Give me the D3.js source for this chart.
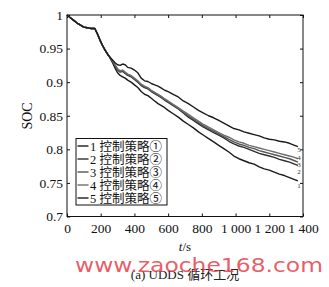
<!DOCTYPE html>
<html><head><meta charset="utf-8">
<script src="https://cdn.jsdelivr.net/npm/d3@7"></script>
<style>
html,body{margin:0;padding:0;background:#fff;}
svg{display:block;}
</style></head>
<body>
<svg id="c" width="329" height="287"></svg>
<script>
const times = [0,20,40,60,80,100,120,140,165,180,195,210,225,240,
  255,270,285,300,315,330,345,360,380,400,420,440,460,480,500,520,540,560,580,600,
  630,660,690,720,750,780,810,840,870,900,930,960,990,1020,1050,1080,1110,1140,1170,1200,1230,1260,1290,1320,1350,1370];

const soc1 = [1.000,0.996,0.992,0.988,0.985,0.982,0.981,0.980,0.980,0.972,0.963,0.955,0.948,0.942,
  0.936,0.929,0.921,0.914,0.910,0.908,0.906,0.903,0.900,0.896,0.892,0.886,0.882,0.880,0.876,0.872,0.868,0.865,0.862,0.858,
  0.853,0.848,0.842,0.837,0.832,0.826,0.821,0.816,0.811,0.806,0.801,0.796,0.790,0.786,0.783,0.780,0.778,0.774,0.771,0.769,0.766,0.763,0.761,0.758,0.755,0.753];
const soc2 = [1.000,0.996,0.992,0.988,0.985,0.982,0.981,0.980,0.980,0.972,0.963,0.955,0.948,0.942,
  0.937,0.931,0.924,0.918,0.915,0.916,0.913,0.910,0.908,0.904,0.900,0.895,0.892,0.890,0.886,0.883,0.880,0.877,0.873,0.870,
  0.865,0.860,0.854,0.848,0.843,0.838,0.833,0.829,0.825,0.821,0.817,0.812,0.808,0.805,0.803,0.800,0.797,0.794,0.792,0.790,0.788,0.785,0.783,0.781,0.778,0.776];
const soc3 = [1.000,0.996,0.992,0.988,0.985,0.982,0.981,0.980,0.980,0.972,0.963,0.955,0.948,0.942,
  0.937,0.931,0.925,0.919,0.916,0.917,0.914,0.911,0.909,0.905,0.901,0.896,0.893,0.891,0.887,0.884,0.881,0.878,0.874,0.871,
  0.866,0.861,0.855,0.850,0.845,0.840,0.835,0.831,0.827,0.823,0.819,0.815,0.811,0.808,0.806,0.803,0.801,0.798,0.796,0.794,0.792,0.790,0.788,0.786,0.783,0.781];
const soc4 = [1.000,0.996,0.992,0.988,0.985,0.982,0.981,0.980,0.980,0.972,0.963,0.955,0.948,0.942,
  0.937,0.932,0.926,0.920,0.917,0.918,0.915,0.912,0.910,0.906,0.902,0.897,0.894,0.892,0.888,0.885,0.882,0.879,0.875,0.872,
  0.867,0.862,0.857,0.852,0.847,0.842,0.837,0.833,0.829,0.825,0.821,0.818,0.814,0.811,0.809,0.806,0.804,0.802,0.800,0.798,0.796,0.794,0.792,0.790,0.788,0.786];
const soc5 = [1.000,0.996,0.992,0.988,0.985,0.982,0.981,0.980,0.980,0.972,0.963,0.955,0.948,0.942,
  0.937,0.933,0.929,0.926,0.925,0.927,0.926,0.922,0.921,0.918,0.914,0.906,0.902,0.901,0.898,0.896,0.894,0.891,0.888,0.886,
  0.882,0.878,0.872,0.868,0.863,0.858,0.854,0.850,0.847,0.843,0.839,0.835,0.831,0.829,0.826,0.824,0.822,0.820,0.817,0.815,0.814,0.812,0.811,0.809,0.806,0.804];

const seriesNames = ["1 控制策略①","2 控制策略②","3 控制策略③","4 控制策略④","5 控制策略⑤"];
const endLabels = ["1","2","3","4","5"];
const xTicks = [0,200,400,600,800,1000,1200,1400];
const xTickLabels = ["0","200","400","600","800","1 000","1 200","1 400"];
const yTicks = [0.7,0.75,0.8,0.85,0.9,0.95,1];
const yTickLabels = ["0.7","0.75","0.8","0.85","0.9","0.95","1"];

const series = [soc1,soc2,soc3,soc4,soc5];
const colors = ["#1a1a1a","#2e2e2e","#555","#6e6e6e","#1a1a1a"];
const serif = "'Liberation Serif','Times New Roman','Noto Sans CJK SC',serif";
const cjk = "'Liberation Serif','Noto Sans CJK SC',serif";

const svg = d3.select("#c");
const L=67, R=303, T=15, B=216.5;
const x = d3.scaleLinear().domain([0,1400]).range([L,R]);
const y = d3.scaleLinear().domain([0.7,1]).range([B,T]);

// frame
svg.append("rect").attr("x",L).attr("y",T).attr("width",R-L).attr("height",B-T)
  .attr("fill","none").attr("stroke","#111").attr("stroke-width",1);

// axes
const fmtX = d => xTickLabels[xTicks.indexOf(d)];
const fmtY = d => yTickLabels[yTicks.findIndex(v=>Math.abs(v-d)<1e-9)];
const gx = svg.append("g").attr("transform",`translate(0,${B})`)
  .call(d3.axisBottom(x).tickValues(xTicks).tickFormat(fmtX).tickSizeInner(-3).tickSizeOuter(0).tickPadding(7));
const gy = svg.append("g").attr("transform",`translate(${L},0)`)
  .call(d3.axisLeft(y).tickValues(yTicks).tickFormat(fmtY).tickSizeInner(-3).tickSizeOuter(0).tickPadding(4));
const gt = svg.append("g").attr("transform",`translate(0,${T})`)
  .call(d3.axisTop(x).tickValues(xTicks).tickFormat("").tickSizeInner(-3).tickSizeOuter(0));
const gr = svg.append("g").attr("transform",`translate(${R},0)`)
  .call(d3.axisRight(y).tickValues(yTicks).tickFormat("").tickSizeInner(-3).tickSizeOuter(0));
[gx,gy,gt,gr].forEach(g=>{
  g.select(".domain").remove();
  g.selectAll("line").attr("stroke","#111");
  g.selectAll("text").attr("font-family",serif).attr("font-size",13.5).attr("fill","#111");
});

// lines
const line = d3.line().x((d,i)=>x(times[i])).y(d=>y(d));
series.forEach((s,k)=>{
  svg.append("path").datum(s).attr("d",line).attr("fill","none")
    .attr("stroke",colors[k]).attr("stroke-width",1.4).attr("stroke-linejoin","round");
});

// end labels (small digits stacked at the right end of each curve)
const endOffsets = [5,5.6,2,-1.7,2.4];
series.forEach((s,k)=>{
  svg.append("text").attr("x",x(times[times.length-1])+1).attr("y",y(s[s.length-1])+endOffsets[k]+2.5)
    .attr("text-anchor","middle").attr("font-family",serif).attr("font-size",7).attr("fill","#333").text(endLabels[k]);
});

// legend
const lg = svg.append("g");
lg.append("rect").attr("x",76).attr("y",138.5).attr("width",91).attr("height",66.5)
  .attr("fill","#fff").attr("stroke","#111").attr("stroke-width",1);
seriesNames.forEach((n,k)=>{
  const cy = 146 + k*13;
  lg.append("line").attr("x1",77.5).attr("x2",88.5).attr("y1",cy).attr("y2",cy)
    .attr("stroke",colors[k]).attr("stroke-width",1.4);
  lg.append("text").attr("x",90).attr("y",cy+4.5).attr("font-family",cjk).attr("font-size",12.5)
    .attr("fill","#111").text(n);
});

// axis titles
svg.append("text").attr("transform","translate(32,116) rotate(-90)").attr("text-anchor","middle")
  .attr("font-family",serif).attr("font-size",14).attr("fill","#111").text("SOC");
const xt = svg.append("text").attr("x",185).attr("y",250.5).attr("text-anchor","middle")
  .attr("font-family",serif).attr("font-size",13).attr("fill","#111");
xt.append("tspan").attr("font-style","italic").text("t");
xt.append("tspan").text("/s");

// caption
svg.append("text").attr("x",185).attr("y",279).attr("text-anchor","middle")
  .attr("font-family",cjk).attr("font-size",13).attr("fill","#222").text("(a) UDDS 循环工况");

// watermark
svg.append("text").attr("x",75).attr("y",272).attr("font-family","'DejaVu Sans',sans-serif")
  .attr("font-size",20).attr("textLength",248).attr("lengthAdjust","spacingAndGlyphs")
  .attr("fill","#e8404c").attr("fill-opacity",0.85).text("www.zaoche168.com");
</script>
</body></html>
